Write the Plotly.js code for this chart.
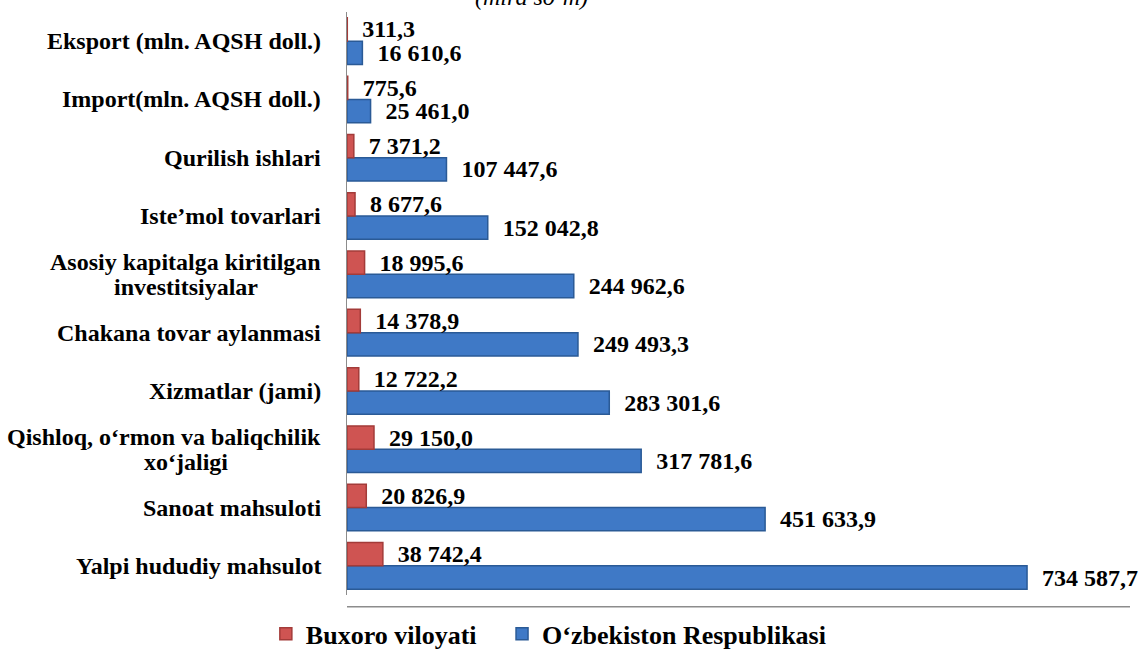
<!DOCTYPE html>
<html>
<head>
<meta charset="utf-8">
<script src="https://cdn.plot.ly/plotly-3.0.1.min.js"></script>
<style>html,body{margin:0;padding:0;background:#fff;}#chart{width:1141px;height:652px;}</style>
</head>
<body>
<div id="chart"></div>
<script>
const categories = [
  "Yalpi hududiy mahsulot",
  "Sanoat mahsuloti",
  "Qishloq, o‘rmon va baliqchilik<br>xo‘jaligi",
  "Xizmatlar (jami)",
  "Chakana tovar aylanmasi",
  "Asosiy kapitalga kiritilgan<br>investitsiyalar",
  "Iste’mol tovarlari",
  "Qurilish ishlari",
  "Import(mln. AQSH doll.)",
  "Eksport (mln. AQSH doll.)"
];
const buxoro = [38742.4, 20826.9, 29150.0, 12722.2, 14378.9, 18995.6, 8677.6, 7371.2, 775.6, 311.3];
const uzbekiston = [734587.7, 451633.9, 317781.6, 283301.6, 249493.3, 244962.6, 152042.8, 107447.6, 25461.0, 16610.6];
const seriesNames = ["Buxoro viloyati", "O‘zbekiston Respublikasi"];
const unitTitle = "(mlrd so‘m)";

function fmt(v) {
  const parts = v.toFixed(1).split(".");
  const intPart = parts[0].replace(/\B(?=(\d{3})+(?!\d))/g, " ");
  return intPart + "," + parts[1];
}

const serif = "Liberation Serif";

function barTrace(values, name, color, lineColor, legendId) {
  return {
    type: "bar", orientation: "h",
    y: categories, x: values,
    name: name,
    legend: legendId,
    text: values.map(fmt),
    texttemplate: "\u00a0\u00a0%{text}",
    textposition: "outside",
    constraintext: "none",
    cliponaxis: false,
    textfont: {family: serif, size: 24, color: "#000", weight: "bold"},
    marker: {color: color, line: {color: lineColor, width: 1.5}},
    hoverinfo: "skip"
  };
}

const traceBlue = barTrace(uzbekiston, seriesNames[1], "#3f79c6", "#2a5a96", "legend2");
const traceRed = barTrace(buxoro, seriesNames[0], "#cf5452", "#a33b39", "legend");

const annotations = [];
const lh = 25;
categories.forEach(c => {
  const lines = c.split("<br>");
  const n = lines.length;
  lines.forEach((ln, i) => {
    const centered = i > 0;
    annotations.push({
      xref: "paper", yref: "y",
      x: 0, y: c,
      xshift: centered ? -24 - 137 : -24,
      yshift: ((n - 1) / 2 - i) * lh,
      xanchor: centered ? "center" : "right", yanchor: "middle",
      align: "center",
      text: ln,
      showarrow: false,
      font: {family: serif, size: 24, color: "#000", weight: "bold"}
    });
  });
});

annotations.push({
  xref: "paper", yref: "paper",
  x: 0.236, y: 1, yshift: 0,
  xanchor: "center", yanchor: "bottom",
  text: "<i>" + unitTitle + "</i>",
  showarrow: false,
  font: {family: serif, size: 24, color: "#000"}
});

const legendBase = {
  orientation: "h",
  xref: "container", yref: "container",
  y: 0.028,
  xanchor: "left", yanchor: "middle",
  font: {family: serif, size: 26, color: "#000", weight: "bold"},
  itemwidth: 30
};

const layout = {
  width: 1141, height: 652,
  font: {family: serif},
  margin: {l: 347, r: 11, t: 12, b: 57},
  paper_bgcolor: "#fff", plot_bgcolor: "#fff",
  barmode: "group",
  bargap: 0.2,
  bargroupgap: 0,
  showlegend: true,
  legend: Object.assign({}, legendBase, {x: 0.233}),
  legend2: Object.assign({}, legendBase, {x: 0.44}),
  xaxis: {
    range: [0, 845800],
    showgrid: false, zeroline: false,
    showticklabels: false, ticks: "",
    showline: false,
    fixedrange: true
  },
  yaxis: {
    type: "category",
    showgrid: false, zeroline: false,
    showticklabels: false, ticks: "",
    showline: true, linecolor: "#8c8c8c", linewidth: 1.5,
    fixedrange: true
  },
  shapes: [{
    type: "line", xref: "paper", yref: "paper",
    x0: 0, x1: 1, y0: -0.02, y1: -0.02,
    line: {color: "#8c8c8c", width: 1.5}
  }],
  annotations: annotations
};

Plotly.newPlot("chart", [traceBlue, traceRed], layout, {displayModeBar: false, staticPlot: true});
</script>
</body>
</html>
